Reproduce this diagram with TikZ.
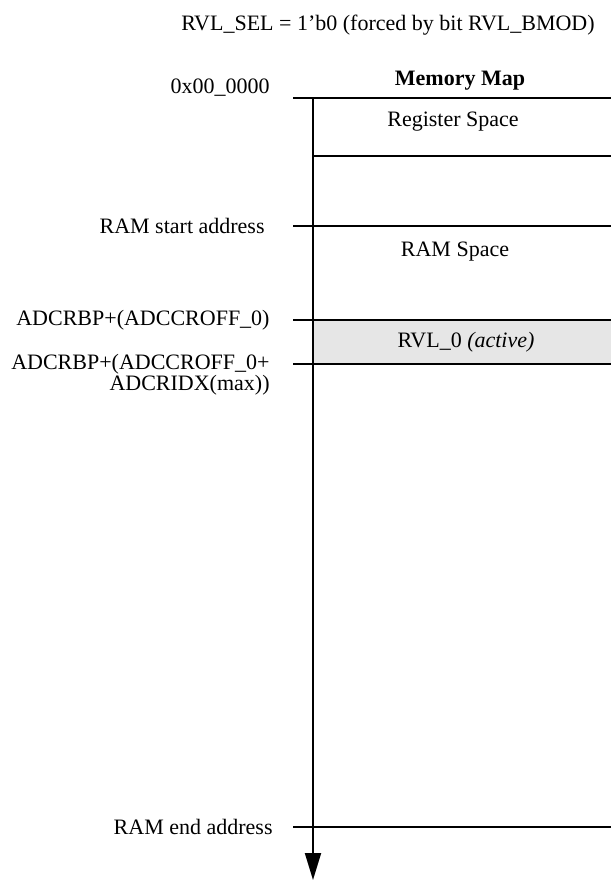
\documentclass[tikz,border=0pt]{standalone}
\usepackage{fontspec}
\setmainfont{Liberation Serif}
\usetikzlibrary{arrows.meta}
\definecolor{activegray}{RGB}{230,230,230}
\begin{document}
\begin{tikzpicture}[
  x=0.5pt, y=-0.5pt,
  every node/.style={font=\fontsize{11}{10.5}\selectfont, inner sep=0pt},
  addr/.style={anchor=east, align=right},
  tick/.style={line width=1.1pt},
  boundary/.style={line width=0.75pt},
  axis/.style={line width=1pt, -{Triangle[length=13.5pt,width=8pt]}}
]
\useasboundingbox (0,0) rectangle (611,880);
% heading
\node (sel) at (388,25) {RVL\_SEL = 1’b0 (forced by bit RVL\_BMOD)};
\node[font=\fontsize{11}{12}\selectfont\bfseries] (map) at (460,81) {Memory Map};
% address marks on the axis
\coordinate (top) at (313,98);
\coordinate (bot) at (313,880);
\coordinate (t0) at (293,98);   \coordinate (e0) at (611,98);
\coordinate (r0) at (313,156);  \coordinate (f0) at (611,156);
\coordinate (t1) at (293,226);  \coordinate (e1) at (611,226);
\coordinate (t2) at (293,320);  \coordinate (e2) at (611,320);
\coordinate (t3) at (293,364);  \coordinate (e3) at (611,364);
\coordinate (t4) at (293,827);  \coordinate (e4) at (611,827);
% active region
\fill[activegray] (313,320) rectangle (e3);
\foreach \i in {0,...,4}
  \draw[boundary] (t\i) -- (e\i);
\foreach \i in {0,...,4}
  \draw[tick] ([yshift=0.2pt]t\i) -- ++(32,0);
\draw[boundary] (r0) -- (f0);
\draw[axis] (top) -- (bot);
% regions
\node (regspace) at (453,122) {Register Space};
\node (ramspace) at (455,252) {RAM Space};
\node (rvl) at (466,342) {RVL\_0 \textit{(active)}};
% addresses
\node[addr] (a0) at (270,88) {0x00\_0000};
\node[addr] (a1) at (265,226) {RAM start address};
\node[addr] (a2) at (270,320) {ADCRBP+(ADCCROFF\_0)};
\node[addr] (a3) at (270,375) {ADCRBP+(ADCCROFF\_0+\\ADCRIDX(max))};
\node[addr] (a4) at (273,827) {RAM end address};
\end{tikzpicture}
\end{document}
